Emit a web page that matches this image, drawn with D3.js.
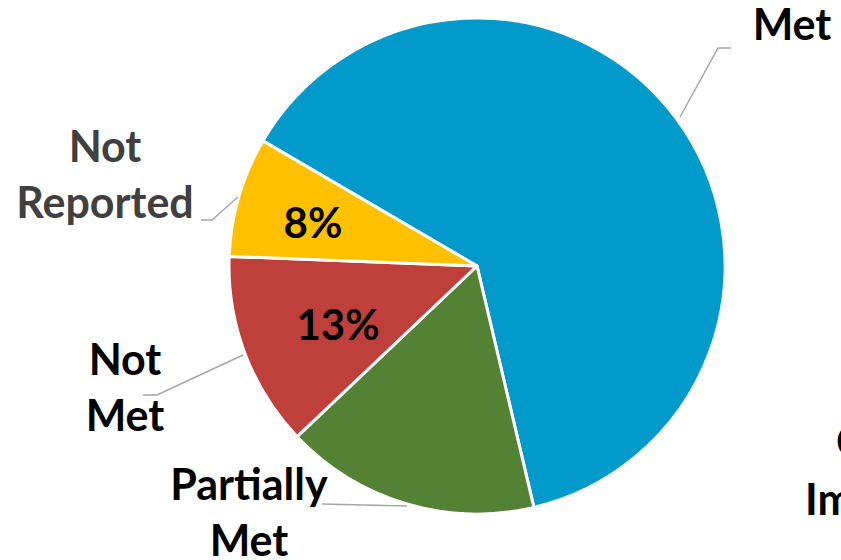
<!DOCTYPE html>
<html>
<head>
<meta charset="utf-8">
<script src="https://cdn.jsdelivr.net/npm/d3@7"></script>
<style>
  html, body { margin: 0; padding: 0; background: #fff; overflow: hidden; }
  svg { display: block; }
  text { font-family: Lato, "Open Sans", sans-serif; font-weight: 700; }
</style>
</head>
<body>
<svg id="chart" width="841" height="560"></svg>
<script>
// Data
const categories = ["Met", "Partially Met", "Not Met", "Not Reported"];
const values = [62.9, 16.6, 12.7, 7.8];
const colors = ["#029ACB", "#548235", "#BF3F3B", "#FFC000"];
const showPercent = [false, false, true, true];
const labelLines = [["Met"], ["Partially", "Met"], ["Not", "Met"], ["Not", "Reported"]];
const labelColors = ["#000000", "#000000", "#000000", "#404040"];
const extraLabelLines = ["Continuous", "Improvement"];

const width = 841, height = 560;
const cx = 477, cy = 266, radius = 248;
const svg = d3.select("#chart");
const g = svg.append("g").attr("transform", `translate(${cx},${cy})`);

const pie = d3.pie().sort(null).value(d => d)
  .startAngle(-59.7 * Math.PI / 180)
  .endAngle((360 - 59.7) * Math.PI / 180);
const arcs = pie(values);
const arc = d3.arc().innerRadius(0).outerRadius(radius);

g.selectAll("path.slice").data(arcs).enter().append("path")
  .attr("class", "slice")
  .attr("d", arc)
  .attr("fill", (d, i) => colors[i])
  .attr("stroke", "#fff")
  .attr("stroke-width", 3)
  .attr("stroke-linejoin", "round");

// percent labels
const total = d3.sum(values);
const pctPos = [null, null, [338, 340], [313, 238]];
arcs.forEach((d, i) => {
  if (!showPercent[i]) return;
  svg.append("text")
    .attr("x", pctPos[i][0]).attr("y", pctPos[i][1])
    .attr("text-anchor", "middle")
    .attr("font-size", 42)
    .attr("fill", "#000")
    .text(Math.round(d.data / total * 100) + "%");
});

// leader lines
const leaders = [
  [[680, 117], [718, 48], [731, 48]],
  [[407, 506], [322, 504]],
  [[243, 355], [157, 395], [143, 395]],
  [[238, 197], [212, 220], [201, 220]]
];
leaders.forEach(pts => {
  svg.append("path")
    .attr("d", d3.line()(pts))
    .attr("fill", "none")
    .attr("stroke", "#A6A6A6")
    .attr("stroke-width", 1.5);
});

// category labels
const labelPos = [
  { x: 792, y: 40 },
  { x: 249, y: 500 },
  { x: 125, y: 375 },
  { x: 105, y: 162 }
];
const lineH = 56;
labelLines.forEach((lines, i) => {
  const t = svg.append("text")
    .attr("text-anchor", "middle")
    .attr("font-size", 43)
    .attr("fill", labelColors[i]);
  lines.forEach((ln, j) => {
    t.append("tspan").attr("x", labelPos[i].x).attr("y", labelPos[i].y + j * lineH).text(ln);
  });
});

// partially visible label at right edge
const ex = svg.append("text").attr("font-size", 43).attr("fill", "#000");
ex.append("tspan").attr("x", 836).attr("y", 457).text(extraLabelLines[0]);
ex.append("tspan").attr("x", 805).attr("y", 515).text(extraLabelLines[1]);
</script>
</body>
</html>
